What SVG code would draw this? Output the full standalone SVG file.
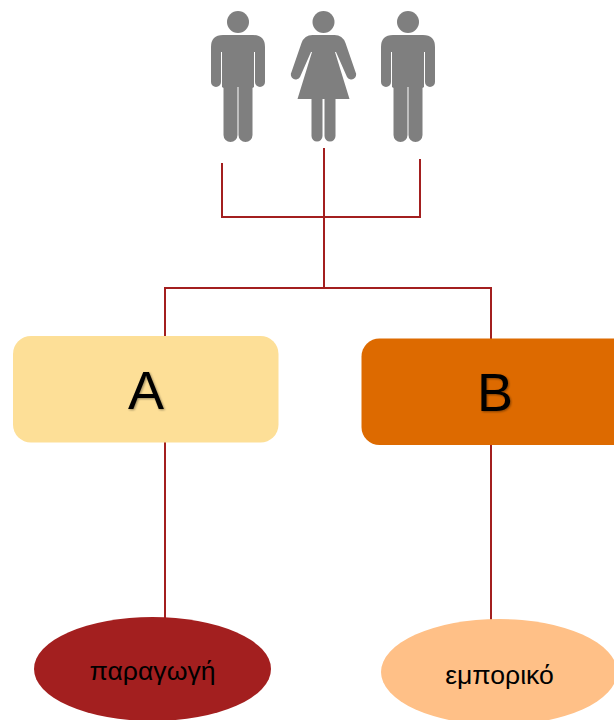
<svg xmlns="http://www.w3.org/2000/svg" width="614" height="720" viewBox="0 0 614 720">
<style>
.person{fill:#7f7f7f}
.conn{fill:none;stroke:#a31f1f;stroke-width:2}
.big{font-family:"Liberation Sans",Arial,sans-serif;font-size:54px;fill:#000;text-anchor:middle;filter:url(#sh)}
.small{font-family:"Liberation Sans",Arial,sans-serif;font-size:26.600px;fill:#000;text-anchor:middle}
</style>
<defs>
<filter id="sh" x="-20%" y="-20%" width="140%" height="140%"><feDropShadow dx="1" dy="1" stdDeviation="1" flood-color="#000" flood-opacity="0.4"/></filter>
<g id="man"><circle cx="0" cy="22" r="11"/><path d="M-15 35H15Q27 35 27 47V82A5 5 0 0 1 17 82V52H16V87L14.500 88V135A7 7 0 0 1 .5 135V87H-.5V135A7 7 0 0 1 -14.500 135V88L-16 87V52H-17V82A5 5 0 0 1 -27 82V47Q-27 35 -15 35Z"/></g>
<g id="woman"><circle cx="0" cy="22" r="11"/><path d="M-11 35H11Q19 35 22 43L32 72A4.700 4.700 0 0 1 23.500 77L12.500 52H11.500L26 99H12V136A5.500 5.500 0 0 1 1 136V99H-1V136A5.500 5.500 0 0 1 -12 136V99H-26L-11.500 52H-12.500L-23.500 77A4.700 4.700 0 0 1 -32 72L-22 43Q-19 35 -11 35Z"/></g>
</defs>
<g id="connectors">
<path class="conn" d="M222 163V217H420V159M324 148V288M165 336V288H491V339M165 442V618M491 445V620"/>
</g>
<g id="person-1" class="person"><use href="#man" x="238"/></g>
<g id="person-2" class="person"><use href="#woman" x="323.500"/></g>
<g id="person-3" class="person"><use href="#man" x="408"/></g>
<g id="node-a"><rect x="13" y="336" width="265.500" height="106.500" rx="18" fill="#fddf97"/><text class="big" x="146" y="409">A</text></g>
<g id="node-b"><rect x="361.500" y="338.500" width="280" height="106.500" rx="18" fill="#dd6a00"/><text class="big" x="495" y="411">B</text></g>
<g id="node-production"><ellipse cx="152.500" cy="669" rx="118.500" ry="52" fill="#a31f1f"/><text class="small" x="152.500" y="680">παραγωγή</text></g>
<g id="node-commercial"><ellipse cx="499" cy="672" rx="118" ry="53" fill="#ffc087"/><text class="small" x="499.500" y="684">εμπορικό</text></g>
</svg>
